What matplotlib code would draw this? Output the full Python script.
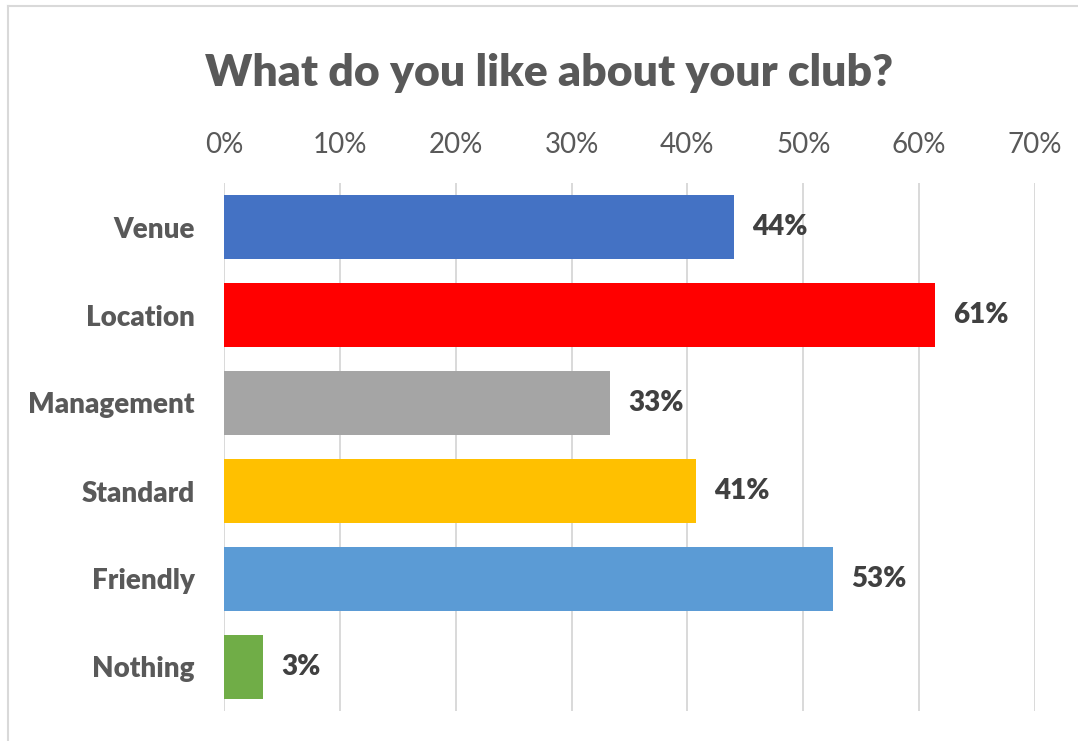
import matplotlib.pyplot as plt
from matplotlib.lines import Line2D
from matplotlib.ticker import PercentFormatter

# Survey results
categories = ['Venue', 'Location', 'Management', 'Standard', 'Friendly', 'Nothing']
shares = [44.0, 61.4, 33.3, 40.7, 52.6, 3.4]
share_labels = ['44%', '61%', '33%', '41%', '53%', '3%']
bar_colors = ['#4472C4', '#FF0000', '#A5A5A5', '#FFC000', '#5B9BD5', '#70AD47']
x_ticks = [0, 10, 20, 30, 40, 50, 60, 70]

plt.rcParams['font.family'] = ['Lato', 'DejaVu Sans']

W, H = 1078, 741
fig = plt.figure(figsize=(W / 100, H / 100), dpi=100)
ax = fig.add_axes([224 / W, 1 - 711 / H, (1035 - 224) / W, (711 - 183) / H])

ypos = list(range(len(categories)))
ax.barh(ypos, shares, height=0.72, color=bar_colors, zorder=3)
ax.set_ylim(len(categories) - 0.5, -0.5)
ax.set_xlim(0, 70)

ax.set_yticks(ypos)
ax.set_yticklabels(categories, fontsize=20, fontweight='heavy', color='#595959')
ax.set_xticks(x_ticks)
ax.xaxis.set_major_formatter(PercentFormatter(decimals=0))
ax.xaxis.tick_top()
ax.tick_params(axis='x', length=0, pad=18, labelsize=20, labelcolor='#595959')
ax.tick_params(axis='y', length=0, pad=21)

ax.grid(axis='x', color='#D9D9D9', linewidth=1.4, zorder=0)
for s in ax.spines.values():
    s.set_visible(False)

for y, v, lab in zip(ypos, shares, share_labels):
    ax.annotate(lab, (v, y), xytext=(13, 0), textcoords='offset points',
                ha='left', va='center', fontsize=20, fontweight='heavy', color='#404040')

fig.text(549 / W, 1 - 73 / H, 'What do you like about your club?', ha='center', va='center',
         fontsize=32, fontweight='heavy', color='#595959')

# chart area border (only top and left edges show in the crop)
fig.add_artist(Line2D([8 / W, 8 / W], [1 - 6 / H, 0], transform=fig.transFigure, color='#D9D9D9', lw=1.5))
fig.add_artist(Line2D([8 / W, 1], [1 - 6 / H, 1 - 6 / H], transform=fig.transFigure, color='#D9D9D9', lw=1.5))

fig.savefig('out.png', dpi=100)
